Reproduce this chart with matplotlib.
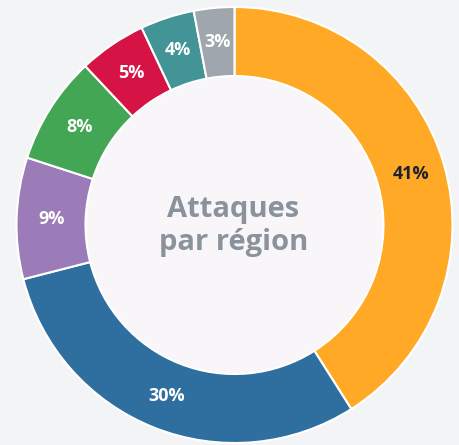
import matplotlib
matplotlib.use('Agg')
import matplotlib.pyplot as plt
from matplotlib.patches import Circle

# données
regions = ['Amérique du Nord', 'Europe', 'Asie-Pacifique', 'Amérique latine',
           'Moyen-Orient', 'Afrique', 'Autres']
parts = [41, 30, 9, 8, 5, 4, 3]
couleurs = ['#FFA926', '#2E6FA0', '#9B7BB8', '#42A655', '#D51445', '#429496', '#A0A6AE']
label_couleurs = ['#1c2230', 'white', 'white', 'white', 'white', 'white', 'white']
titre = 'Attaques\npar région'

plt.rcParams['font.family'] = ['Open Sans', 'DejaVu Sans']

fig = plt.figure(figsize=(4.59, 4.45), dpi=100, facecolor='#F3F4F6')
ax = fig.add_axes([0, 0, 1, 1])
ax.set_facecolor('#F3F4F6')

cx, cy = 234.5, 220
r_out, r_in = 218, 149

# fond du centre
ax.add_patch(Circle((cx, cy), r_in, facecolor='#F8F6F8', edgecolor='none', zorder=0))

wedges, _, autotexts = ax.pie(
    parts, colors=couleurs, startangle=90, counterclock=False,
    center=(cx, cy), radius=r_out, frame=True,
    autopct='%d%%', pctdistance=(r_out + r_in) / 2 / r_out,
    wedgeprops=dict(width=r_out - r_in, edgecolor='white', linewidth=1.5),
)
ax.set_xlim(0, 459)
ax.set_ylim(0, 445)
ax.set_aspect('equal')
ax.axis('off')

for t, c in zip(autotexts, label_couleurs):
    t.set_color(c)
    t.set_fontsize(13)
    t.set_fontweight('bold')

ax.text(cx - 1, cy - 1, titre, ha='center', va='center', fontsize=21,
        fontweight='bold', color='#8A929C', linespacing=1.2)

fig.savefig('out.png', dpi=100, facecolor=fig.get_facecolor())
